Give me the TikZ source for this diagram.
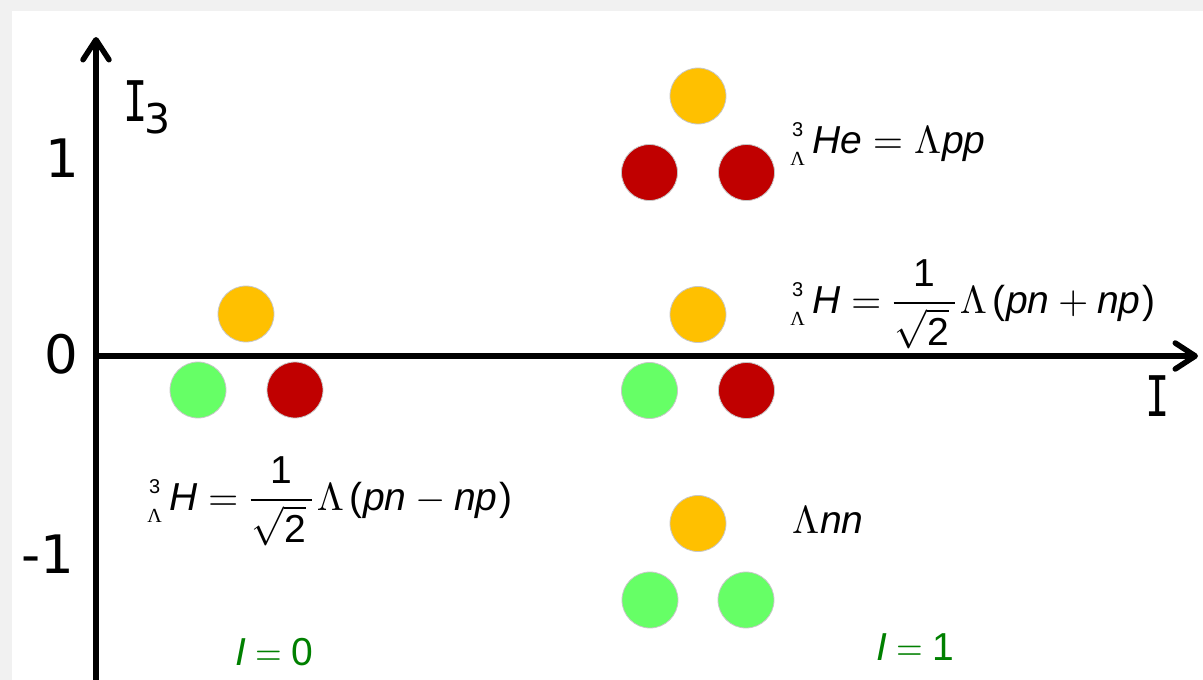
\documentclass[tikz,border=0pt]{standalone}
\usepackage{fontspec}
\usetikzlibrary{arrows.meta}
\DeclareFontShape{OT1}{cmr}{m}{n}{<->cmr10}{}
\DeclareFontShape{OML}{cmm}{m}{it}{<->cmmi10}{}
\DeclareFontShape{OMS}{cmsy}{m}{n}{<->cmsy10}{}
\DeclareFontShape{OMX}{cmex}{m}{n}{<->cmex10}{}
\newfontfamily\arf{Liberation Sans}
\newfontfamily\tmf{Liberation Serif}
\newfontfamily\dvf{DejaVu Sans}
\newfontfamily\dvm{DejaVu Sans Mono}
\definecolor{orng}{RGB}{255,192,0}
\definecolor{rd}{RGB}{192,0,0}
\definecolor{grn}{RGB}{102,255,102}
\definecolor{lblgreen}{RGB}{0,128,0}
\definecolor{shadecol}{RGB}{241,241,241}
\newcommand{\av}[1]{\hbox{\arf\itshape #1}}
\newcommand{\au}[1]{\hbox{\arf #1}}
\newcommand{\hypL}{\makebox[15pt]{\raisebox{-12pt}{\fontsize{20}{20}\selectfont\tmf Λ}}\llap{\makebox[15pt]{\raisebox{17pt}{\fontsize{20}{20}\selectfont\arf 3}}}\hspace{7pt}}
\newcommand{\narrowI}{\scalebox{0.72}[1]{I}}
\newcommand{\invsq}{\displaystyle\frac{\au{1}}{\kern1pt\sqrt{\au{2}}\kern6pt}}
\newcommand{\greq}{\hspace{9pt}\scalebox{0.88}[1]{$=$}\hspace{10pt}}
\tikzset{
  ball/.style={circle, minimum size=56pt, inner sep=0pt, draw=black!22, line width=0.8pt},
  axis/.style={line width=5.5pt, -{Straight Barb[length=20pt,width=26pt,line cap=round,line join=round]}},
  lbl/.style={anchor=base west, inner sep=0pt, font=\fontsize{39}{47}\selectfont\arf},
  glbl/.style={lbl, text=lblgreen},
  tick/.style={anchor=base, inner sep=0pt, font=\fontsize{53}{60}\selectfont\dvf},
  axlbl/.style={anchor=base west, inner sep=0pt, font=\fontsize{56}{60}\selectfont\dvm}
}
\begin{document}
\begin{tikzpicture}[x=1pt,y=-1pt]
\useasboundingbox (0,0) rectangle (1203,680);
\fill[shadecol] (0,0) rectangle (1203,680);
\fill[white] (12,11) rectangle (1203,680);
% axes
\coordinate (origin) at (96,356);
\coordinate (ytop) at (96,37);
\coordinate (ybot) at (96,690);
\coordinate (xend) at (1198,356);
\draw[axis] (ybot) -- (ytop);
\draw[axis] (origin) -- (xend);
% axis labels
\node[axlbl] (i3) at (123,121) {\narrowI\kern-3pt\raisebox{-12pt}{\fontsize{41}{41}\selectfont\dvf 3}};
\node[axlbl, anchor=base] (ix) at (1158,416) {\narrowI};
\node[tick] (t1) at (62,177) {1};
\node[tick] (t0) at (61,373) {0};
\node[tick] (tm1) at (48,573) {-1};
% I=0 multiplet
\node[ball, fill=orng] (lo) at (246,314) {};
\node[ball, fill=grn] (lg) at (198,390) {};
\node[ball, fill=rd] (lr) at (295,390) {};
% I=1 multiplet, top
\node[ball, fill=orng] (to) at (698,96) {};
\node[ball, fill=rd] (tr1) at (649.5,172.5) {};
\node[ball, fill=rd] (tr2) at (746.5,172.5) {};
% middle
\node[ball, fill=orng] (mo) at (698,314.5) {};
\node[ball, fill=grn] (mg) at (649.5,390.5) {};
\node[ball, fill=rd] (mr) at (746.5,390.5) {};
% bottom
\node[ball, fill=orng] (bo) at (698,523.5) {};
\node[ball, fill=grn] (bg1) at (650,600) {};
\node[ball, fill=grn] (bg2) at (746,600) {};
% labels
\node[lbl] (he) at (790,153) {\hypL$\av{He}=\Lambda\kern1pt\av{pp}$};
\node[lbl] (hp) at (790,313) {\hypL$\av{H}=\invsq\kern4pt\Lambda\kern5pt\au{(}\kern1pt\av{pn}+\av{np}\kern2pt\au{)}$};
\node[lbl] (hm) at (147,510) {\hypL$\av{H}=\invsq\kern4pt\Lambda\kern5pt\au{(}\kern1pt\av{pn}-\av{np}\kern2pt\au{)}$};
\node[lbl] (lnn) at (792,533) {$\Lambda\kern1pt\av{nn}$};
\node[glbl] (i1) at (876,660) {\av{I}\greq1};
\node[glbl] (i0) at (235,665) {\av{I}\greq0};
\end{tikzpicture}
\end{document}
